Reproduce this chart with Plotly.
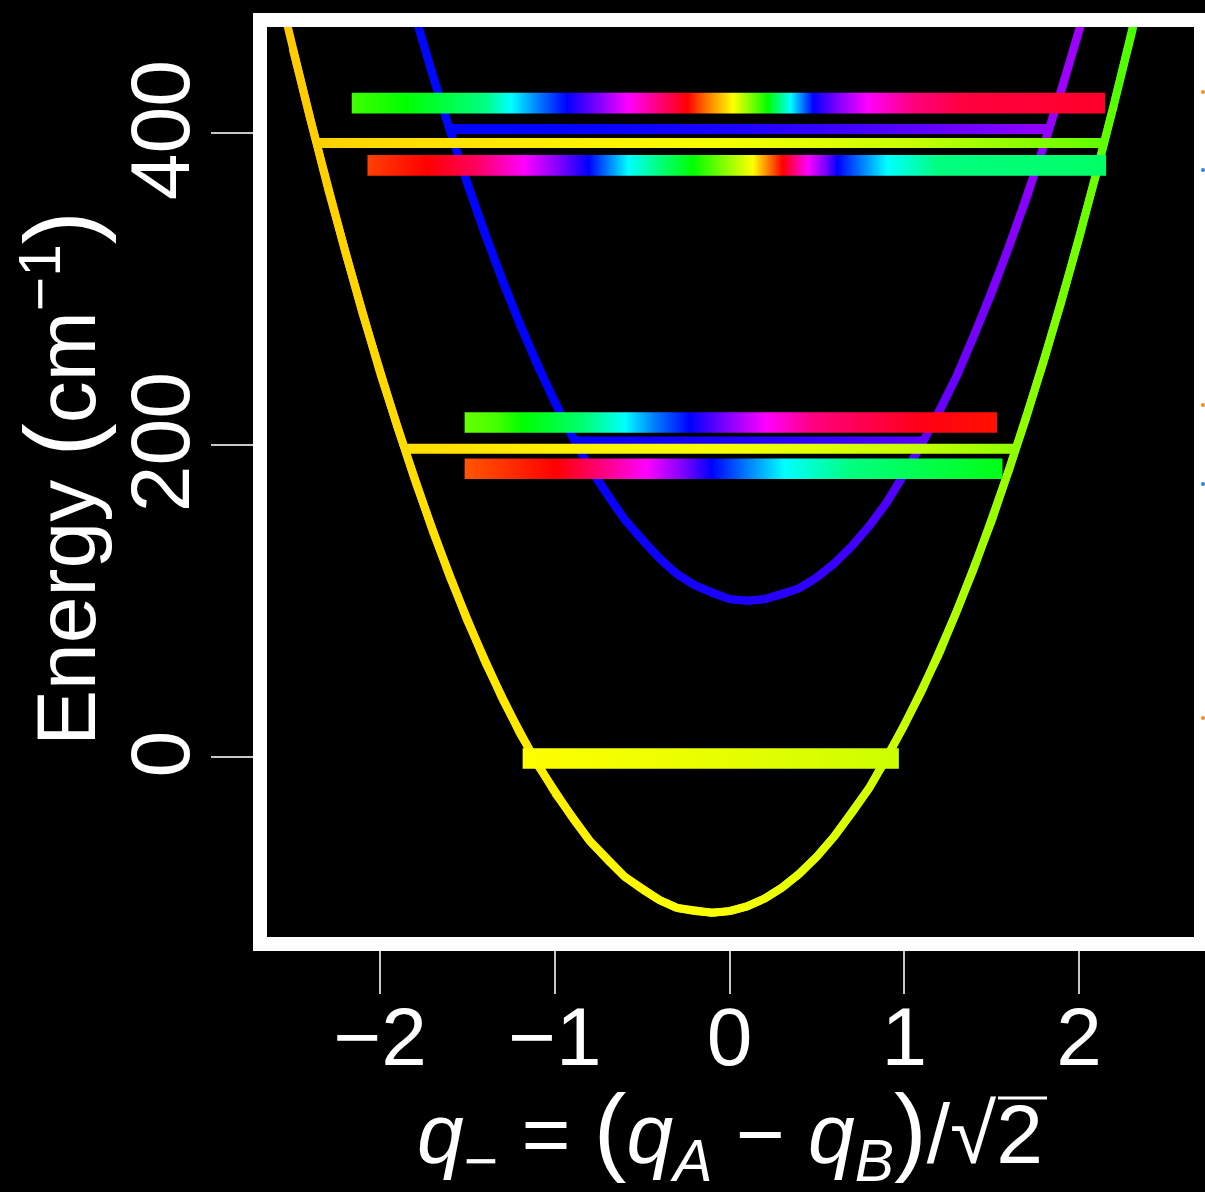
import numpy as np
import plotly.graph_objects as go

# ---- potential energy curves along q_- (energies in cm^-1) ----
q_lower = [-2.6, -2.5, -2.4, -2.3, -2.2, -2.1, -2.0, -1.9, -1.8, -1.7, -1.6, -1.5, -1.4,
           -1.3, -1.2, -1.1, -1.0, -0.9, -0.8, -0.7, -0.6, -0.5, -0.4, -0.3, -0.2, -0.1,
           0.0, 0.1, 0.2, 0.3, 0.4, 0.5, 0.6, 0.7, 0.8, 0.9, 1.0, 1.1, 1.2, 1.3, 1.4,
           1.5, 1.6, 1.7, 1.8, 1.9, 2.0, 2.1, 2.2, 2.3, 2.4]
E_lower = [501, 454, 409, 365, 324, 284, 246, 211, 177, 145, 115, 87, 61,
           37, 15, -5, -23, -39, -54, -66, -77, -85, -92, -97, -99, -100,
           -99, -96, -91, -84, -75, -64, -51, -36, -20, -1, 20, 42, 66, 93, 121,
           151, 184, 218, 254, 292, 332, 374, 418, 463, 511]

q_upper = [-2.0, -1.9, -1.8, -1.7, -1.6, -1.5, -1.4, -1.3, -1.2, -1.1, -1.0, -0.9,
           -0.8, -0.7, -0.6, -0.5, -0.4, -0.3, -0.2, -0.1, 0.0, 0.1, 0.2, 0.3, 0.4,
           0.5, 0.6, 0.7, 0.8, 0.9, 1.0, 1.1, 1.2, 1.3, 1.4, 1.5, 1.6, 1.7, 1.8, 1.9,
           2.0, 2.1, 2.2]
E_upper = [558, 515, 475, 437, 401, 367, 335, 305, 277, 251, 227, 205,
           185, 168, 152, 139, 127, 117, 110, 105, 101, 100, 101, 104, 108,
           115, 124, 135, 148, 163, 181, 200, 221, 244, 270, 297, 327, 358, 392, 427,
           465, 505, 546]

# hue (degrees) of each curve family as a function of q_-
hue_lower_q = [-2.6, -2.0, -1.0, 0.0, 0.5, 1.0, 1.5, 2.0, 2.4]
hue_lower = [47, 51, 56, 62, 67, 73, 83, 94, 105]
hue_upper_q = [-2.0, -1.0, 0.0, 0.5, 1.0, 1.5, 2.0, 2.2]
hue_upper = [238, 240, 246, 252, 260, 269, 278, 282]

# ---- thin vibrational levels ----
lev_lower_E = [197.4, 393.4]
lev_lower_q0 = [-1.86, -2.36]
lev_lower_q1 = [1.63, 2.13]
lev_upper_E = [202.0, 402.4]
lev_upper_q0 = [-0.88, -1.59]
lev_upper_q1 = [1.11, 1.82]

# ---- thick eigenstate bars, coloured by wavefunction phase (degrees) ----
bar_E = [419.0, 379.1, 214.2, 184.6, -1.2]
bar_q0 = [-2.162, -2.072, -1.516, -1.516, -1.184]
bar_q1 = [2.149, 2.155, 1.531, 1.562, 0.969]
bar_phase_q = [
    [-2.162, -1.85, -1.40, -1.25, -1.10, -0.93, -0.75, -0.58, -0.41, -0.24, -0.12,
     0.02, 0.22, 0.35, 0.48, 0.62, 0.79, 1.04, 1.33, 2.149],
    [-2.072, -1.73, -1.45, -1.176, -0.976, -0.806, -0.692, -0.578, -0.407, -0.208,
     -0.037, 0.134, 0.219, 0.304, 0.447, 0.547, 0.617, 0.76, 0.902, 1.187, 2.155],
    [-1.516, -1.33, -1.183, -0.976, -0.81, -0.60, -0.434, -0.226, -0.018, 0.209,
     0.48, 1.105, 1.531],
    [-1.516, -1.288, -0.996, -0.726, -0.476, -0.268, -0.102, 0.106, 0.314, 0.689, 1.562],
    [-1.184, -0.6, 0.0, 0.5, 0.969],
]
bar_phase = [
    [105, 120, 150, 180, 210, 240, 270, 300, 330, 360, 390,
     420, 480, 540, 600, 630, 660, 690, 705, 710],
    [15, 0, -22, -60, -90, -120, -150, -180, -210, -240,
     -270, -300, -330, -360, -420, -450, -480, -510, -540, -570, -576],
    [96, 104, 120, 135, 150, 180, 210, 240, 270, 300, 330, 355, 364],
    [20, 12, 0, -30, -60, -90, -120, -150, -180, -210, -235],
    [60, 63, 66, 69, 72],
]

FONT = "Liberation Sans, Arial, sans-serif"
CURVE_W = 8
LEVEL_HALF = 3.2   # half thickness of thin levels (cm^-1)
BAR_HALF = 6.6     # half thickness of thick bars (cm^-1)


def hue_rgb(h):
    h = h % 360.0
    sector = int(h // 60) % 6
    f = (h % 60) / 60.0
    up, down = int(round(255 * f)), int(round(255 * (1 - f)))
    r, g, b = [(255, up, 0), (down, 255, 0), (0, 255, up),
               (0, down, 255), (up, 0, 255), (255, 0, down)][sector]
    return f"rgb({r},{g},{b})"


def gradient_scale(qs, hues, q0, q1):
    scale = []
    for q, h in zip(qs, hues):
        t = (q - q0) / (q1 - q0)
        t = min(max(t, 0.0), 1.0)
        if scale and t <= scale[-1][0]:
            t = min(scale[-1][0] + 1e-6, 1.0)
        scale.append([t, hue_rgb(h)])
    scale[0][0] = 0.0
    scale[-1][0] = 1.0
    return scale


def family_stops(fam_q, fam_h, q0, q1):
    qs = [q0] + [q for q in fam_q if q0 < q < q1] + [q1]
    hs = list(np.interp(qs, fam_q, fam_h))
    return qs, hs


def band(fig, q0, q1, e, half, scale):
    fig.add_trace(go.Scatter(
        x=[q0, q1, q1, q0, q0], y=[e - half, e - half, e + half, e + half, e - half],
        mode="lines", line=dict(width=0), fill="toself",
        fillgradient=dict(type="horizontal", colorscale=scale, start=q0, stop=q1),
        hoverinfo="skip", showlegend=False))


fig = go.Figure()

# curves, drawn as short overlapping pieces so the colour can change along q
for qs, es, fq, fh in [(q_lower, E_lower, hue_lower_q, hue_lower),
                       (q_upper, E_upper, hue_upper_q, hue_upper)]:
    for k in range(len(qs) - 1):
        qm = 0.5 * (qs[k] + qs[k + 1])
        fig.add_trace(go.Scatter(
            x=qs[k:k + 3], y=es[k:k + 3], mode="lines",
            line=dict(color=hue_rgb(np.interp(qm, fq, fh)), width=CURVE_W),
            hoverinfo="skip", showlegend=False))

# thin levels (upper family first, lower family on top)
for e, q0, q1 in zip(lev_upper_E, lev_upper_q0, lev_upper_q1):
    qs, hs = family_stops(hue_upper_q, hue_upper, q0, q1)
    band(fig, q0, q1, e, LEVEL_HALF, gradient_scale(qs, hs, q0, q1))
for e, q0, q1 in zip(lev_lower_E, lev_lower_q0, lev_lower_q1):
    qs, hs = family_stops(hue_lower_q, hue_lower, q0, q1)
    band(fig, q0, q1, e, LEVEL_HALF, gradient_scale(qs, hs, q0, q1))

# eigenstate bars
for e, q0, q1, pq, ph in zip(bar_E, bar_q0, bar_q1, bar_phase_q, bar_phase):
    band(fig, q0, q1, e, BAR_HALF, gradient_scale(pq, ph, q0, q1))

W, H = 1205, 1192
L, R, T, B = 267, 11, 27, 255
pw, ph_ = W - L - R, H - T - B


def px(xp):
    return (xp - L) / pw


def py(yp):
    return (H - B - yp) / ph_


shapes = [
    dict(type="rect", xref="paper", yref="paper",
         x0=px(260), x1=px(1201), y0=py(944), y1=py(20),
         line=dict(color="white", width=14), fillcolor="rgba(0,0,0,0)", layer="above"),
    # radical bar over the 2
    dict(type="line", xref="paper", yref="paper",
         x0=px(998), x1=px(1047), y0=py(1098), y1=py(1098),
         line=dict(color="white", width=3)),
]
for yp, col in [(92, "#ff8a1a"), (170, "#2a7fff"), (405, "#ff8a1a"),
                (484, "#2a7fff"), (718, "#ff8a1a")]:
    shapes.append(dict(type="circle", xref="paper", yref="paper",
                       x0=px(1201), x1=px(1205), y0=py(yp + 2), y1=py(yp - 2),
                       line=dict(width=0), fillcolor=col, layer="above"))

axis_common = dict(showgrid=False, zeroline=False, showline=False, ticks="outside",
                   tickwidth=2, tickcolor="#c8c8c8")

fig.update_layout(
    width=W, height=H, margin=dict(l=L, r=R, t=T, b=B),
    paper_bgcolor="black", plot_bgcolor="black", showlegend=False,
    xaxis=dict(range=[-2.647, 2.658], tickvals=[-2, -1, 0, 1, 2], ticklen=56,
               ticklabelstandoff=-27,
               tickfont=dict(family=FONT, size=82, color="white"), **axis_common),
    yaxis=dict(range=[-115.6, 467.8], tickvals=[0, 200, 400], ticklen=55,
               tickangle=-90, ticklabelstandoff=-12, ticklabelshift=10,
               tickfont=dict(family=FONT, size=84, color="white"), **axis_common),
    shapes=shapes,
    annotations=[
        dict(xref="paper", yref="paper", x=px(60), y=py(479), textangle=-90,
             text="Energy <span style='font-size:100px'>(</span>cm<sup>−1</sup>"
                  "<span style='font-size:100px'>)</span>",
             showarrow=False, font=dict(family=FONT, size=84, color="white"),
             xanchor="center", yanchor="middle"),
        dict(xref="paper", yref="paper", x=px(730), y=py(1133),
             text="<i>q</i><sub>−</sub> = <span style='font-size:98px'>(</span><i>q<sub>A</sub></i>"
                  " − <i>q<sub>B</sub></i><span style='font-size:98px'>)</span>/√2",
             showarrow=False, font=dict(family=FONT, size=84, color="white"),
             xanchor="center", yanchor="middle"),
    ],
)

fig.write_html("out.html")
